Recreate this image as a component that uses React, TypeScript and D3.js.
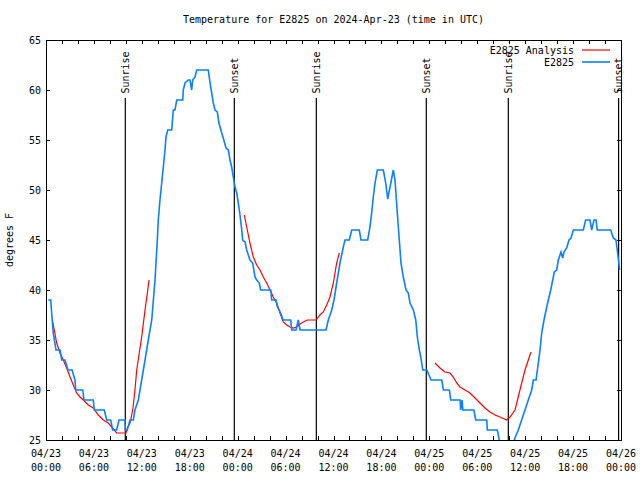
import React from "react";
import * as d3 from "d3";

// ---- data (hours after 2024-04-23 00:00 UTC) ----
const startUtc = Date.UTC(2024, 3, 23, 0, 0);
const spanHours = 72;

const stationHours = [
  0.29, 0.59, 0.71, 0.91, 1.25, 1.75, 1.97, 2.38, 2.75, 3.26, 3.63, 3.72, 4.6, 4.76, 5.92, 6.05,
  7.3, 7.6, 8.1, 8.35, 8.85, 9.14, 9.89, 9.93, 10.18, 10.52, 10.93, 11.14, 11.56, 11.98, 12.4,
  12.81, 13.24, 13.65, 13.94, 14.06, 14.27, 14.49, 14.69, 14.9, 15.03, 15.24, 15.74, 15.94, 16.15,
  16.37, 17.12, 17.19, 17.41, 17.82, 18.03, 18.24, 18.37, 18.66, 18.87, 19.28, 20.32, 20.54, 20.75,
  20.95, 21.16, 21.45, 21.66, 22.0, 22.2, 22.54, 22.83, 23.04, 23.25, 23.45, 23.67, 23.88, 24.08,
  24.29, 24.51, 24.63, 24.92, 25.13, 25.54, 25.88, 26.17, 26.38, 26.71, 26.88, 28.14, 28.26, 28.8,
  28.97, 29.21, 29.71, 30.64, 30.77, 31.31, 31.59, 31.81, 35.06, 35.35, 35.78, 36.06, 36.4, 36.81,
  37.23, 37.44, 37.98, 38.28, 39.23, 39.44, 40.28, 40.57, 40.78, 40.98, 41.2, 41.49, 42.24, 42.54,
  42.79, 43.08, 43.49, 43.7, 43.99, 44.24, 44.45, 44.74, 45.08, 45.37, 45.58, 46.0, 46.3, 46.5,
  46.75, 46.93, 47.18, 47.68, 48.22, 49.55, 49.76, 50.51, 50.68, 51.85, 51.92, 52.1, 52.2, 52.46,
  53.58, 53.81, 55.19, 55.26, 56.51, 56.76, 57.2, 58.3, 58.72, 59.14, 59.56, 59.98, 60.39, 60.82,
  61.02, 61.36, 61.65, 61.86, 62.07, 62.36, 62.7, 62.9, 63.2, 63.45, 63.65, 63.95, 64.15, 64.49,
  64.7, 64.86, 65.2, 65.49, 65.74, 66.03, 67.28, 67.57, 68.12, 68.33, 68.62, 68.87, 69.03, 70.71,
  71.04, 71.37, 71.53, 71.78, 71.82,
];
const stationTemps = [
  39, 39, 37.7, 35.7, 34, 34, 33, 33, 32, 32, 31, 30, 30, 29, 29, 28,
  28, 27, 27, 26, 26, 27, 27, 26, 26, 27, 27, 28, 29, 31, 33,
  35, 37, 41, 45, 47, 49, 50.7, 52.3, 54, 55.3, 56, 56, 58, 58,
  59, 59, 60, 60.7, 61, 61, 60, 61, 61.3, 62, 62, 62, 60.7, 59.7,
  58.7, 58, 57.8, 56.7, 55.7, 55.2, 54.2, 54, 53, 52.3, 51.3, 50.3, 49.7, 48.7,
  47.5, 46, 45, 44.8, 44, 43, 42.7, 41.3, 41, 40.7, 40, 40, 39, 39,
  38.3, 38, 37, 37, 36, 36, 37, 36, 36, 37, 38, 39, 40.7, 42.7,
  44.3, 45, 45, 46, 46, 45, 45, 46.3, 47.7, 49.3, 50.7, 52, 52, 50.7,
  49.1, 50.3, 52, 51, 47.7, 45, 42.7, 41.3, 40, 39.7, 38.7, 38, 37, 35.3,
  34, 33.3, 32, 32, 31, 31, 30, 30, 29, 29, 28, 29, 28, 28,
  28, 27, 27, 26, 26, 25, 24, 24, 25.2, 26, 27, 28, 29, 30,
  31, 31, 32.7, 34, 35.7, 37, 38.3, 39, 40, 41, 41.8, 42, 43, 43.8,
  43.2, 43.8, 44.2, 45, 45.2, 46, 46, 47, 47, 46, 47, 47, 46, 46,
  45.2, 45, 44, 42.3, 42,
];

const analysis1Hours = [
  0.85, 1.34, 1.75, 2.17, 2.59, 3.01, 3.42, 3.84, 4.26, 4.67, 5.3, 5.92, 6.55, 7.18, 7.8, 8.23,
  8.85, 10.02, 10.18, 10.52, 10.86, 11.14, 11.36, 11.68, 11.98, 12.4, 12.69, 12.9,
];
const analysis1Temps = [
  36.8, 34.7, 33.7, 33, 32.2, 31.3, 30.5, 29.7, 29.3, 29, 28.5, 28.2, 27.5, 27, 26.7, 26.3,
  25.7, 25.7, 26.2, 26.7, 28, 30, 32, 33.7, 35.3, 38, 39.7, 41,
];
const analysis2Hours = [
  24.83, 25.13, 25.54, 25.96, 26.38, 26.8, 27.21, 27.64, 28.05, 28.46, 28.89, 29.3, 29.71, 30.14,
  30.55, 30.97, 31.39, 31.81, 32.22, 32.72, 33.81, 34.31, 34.72, 35.15, 35.56, 35.98, 36.4, 36.73,
];
const analysis2Temps = [
  47.5, 46.3, 44.7, 43.3, 42.5, 42, 41.3, 40.7, 40, 39.3, 38.7, 37.7, 36.8, 36.5,
  36.3, 36.2, 36.3, 36.6, 36.8, 37, 37, 37.5, 37.8, 38.5, 39.3, 40.7, 42.7, 43.7,
];
const analysis3Hours = [
  48.71, 49.34, 49.96, 50.59, 51.0, 51.43, 51.84, 52.47, 53.09, 53.72, 54.35, 54.97, 55.6, 56.22,
  56.85, 57.69, 58.1, 58.73, 59.13, 59.56, 59.98, 60.52, 60.73,
];
const analysis3Temps = [
  32.7, 32.2, 31.8, 31.7, 31.3, 30.7, 30.3, 30, 29.7, 29.2, 28.7, 28.2, 27.8, 27.5,
  27.3, 27, 27.3, 28, 29.3, 30.7, 32, 33.3, 33.8,
];

const sunriseHours = [9.93, 33.85, 57.89];
const sunsetHours = [23.58, 47.62, 71.7];

const yTickValues = [25, 30, 35, 40, 45, 50, 55, 60, 65];
const titleText = "Temperature for E2825 on 2024-Apr-23 (time in UTC)";
const yAxisLabel = "degrees F";
const seriesNames = ["E2825 Analysis", "E2825"];
const seriesColors = ["#ff0000", "#0a80ff"];

// ---- layout ----
const W = 640;
const H = 480;
const L = 46;
const R = 621;
const T = 40;
const B = 440;
const FONT = "'DejaVu Sans Mono', monospace";

const hourDate = (h: number) => new Date(startUtc + h * 3600 * 1000);

export default function App() {
  const x = d3.scaleUtc().domain([hourDate(0), hourDate(spanHours)]).range([L, R]);
  const y = d3.scaleLinear().domain([25, 65]).range([B, T]);

  const line = d3
    .line<[number, number]>()
    .x((d) => x(hourDate(d[0])))
    .y((d) => y(d[1]));

  const zip = (hs: number[], vs: number[]) => hs.map((h, i) => [h, vs[i]] as [number, number]);

  const stationPath = line(zip(stationHours, stationTemps)) || "";
  const analysisPaths = [
    line(zip(analysis1Hours, analysis1Temps)) || "",
    line(zip(analysis2Hours, analysis2Temps)) || "",
    line(zip(analysis3Hours, analysis3Temps)) || "",
  ];

  const minorTicks = d3.utcHour.every(2)!.range(hourDate(0), hourDate(spanHours + 0.01));
  const majorTicks = d3.utcHour.every(6)!.range(hourDate(0), hourDate(spanHours + 0.01));
  const fmtDate = d3.utcFormat("%m/%d");
  const fmtTime = d3.utcFormat("%H:%M");

  const markerTopY = y(59.2);
  const labelStartY = y(59.65);

  const events = [
    ...sunriseHours.map((h) => ({ h, label: "Sunrise" })),
    ...sunsetHours.map((h) => ({ h, label: "Sunset" })),
  ];

  return (
    <svg
      width={W}
      height={H}
      style={{ position: "absolute", left: 0, top: 0, background: "#fff" }}
      fontFamily={FONT}
      fontSize={10}
    >
      <defs>
        <clipPath id="plotClip">
          <rect x={L} y={T} width={R - L} height={B - T} />
        </clipPath>
      </defs>
      <rect x={0} y={0} width={W} height={H} fill="#fff" />

      <text x={(L + R) / 2} y={23} textAnchor="middle" fill="#000">
        {titleText}
      </text>

      {/* y ticks */}
      {yTickValues.map((v) => (
        <g key={"y" + v}>
          <line x1={L} x2={L + 4} y1={Math.round(y(v)) + 0.5} y2={Math.round(y(v)) + 0.5} stroke="#000" />
          <line x1={R - 4} x2={R} y1={Math.round(y(v)) + 0.5} y2={Math.round(y(v)) + 0.5} stroke="#000" />
          <text x={41} y={y(v)} dy="0.35em" textAnchor="end" fill="#000">
            {v}
          </text>
        </g>
      ))}

      {/* x ticks */}
      {minorTicks.map((d, i) => {
        const px = Math.round(x(d)) + 0.5;
        return (
          <g key={"xt" + i}>
            <line x1={px} x2={px} y1={B} y2={B - 4} stroke="#000" />
            <line x1={px} x2={px} y1={T} y2={T + 4} stroke="#000" />
          </g>
        );
      })}
      {majorTicks.map((d, i) => (
        <g key={"xl" + i}>
          <text x={x(d)} y={457} textAnchor="middle" fill="#000">
            {fmtDate(d)}
          </text>
          <text x={x(d)} y={471} textAnchor="middle" fill="#000">
            {fmtTime(d)}
          </text>
        </g>
      ))}

      <text
        transform={`translate(13,${(T + B) / 2}) rotate(-90)`}
        textAnchor="middle"
        fill="#000"
      >
        {yAxisLabel}
      </text>

      {/* sunrise / sunset markers */}
      {events.map((e, i) => {
        const px = x(hourDate(e.h));
        return (
          <g key={"ev" + i}>
            <line x1={px} x2={px} y1={B} y2={markerTopY} stroke="#000" strokeWidth={1.2} />
            <text
              transform={`translate(${px},${labelStartY}) rotate(-90)`}
              dy="0.35em"
              textAnchor="start"
              fill="#000"
            >
              {e.label}
            </text>
          </g>
        );
      })}

      {/* data */}
      <g clipPath="url(#plotClip)">
        {analysisPaths.map((p, i) => (
          <path key={"a" + i} d={p} fill="none" stroke={seriesColors[0]} strokeWidth={1.2} />
        ))}
        <path d={stationPath} fill="none" stroke={seriesColors[1]} strokeWidth={1.6} />
      </g>

      {/* border */}
      <rect x={L + 0.5} y={T + 0.5} width={R - L} height={B - T} fill="none" stroke="#000" strokeWidth={1} />

      {/* legend */}
      {seriesNames.map((name, i) => {
        const ly = 50 + i * 12;
        return (
          <g key={"lg" + i}>
            <text x={574} y={ly} dy="0.35em" textAnchor="end" fill="#000">
              {name}
            </text>
            <line x1={582} x2={610} y1={ly} y2={ly} stroke={seriesColors[i]} strokeWidth={i === 0 ? 1.2 : 1.6} />
          </g>
        );
      })}
    </svg>
  );
}
